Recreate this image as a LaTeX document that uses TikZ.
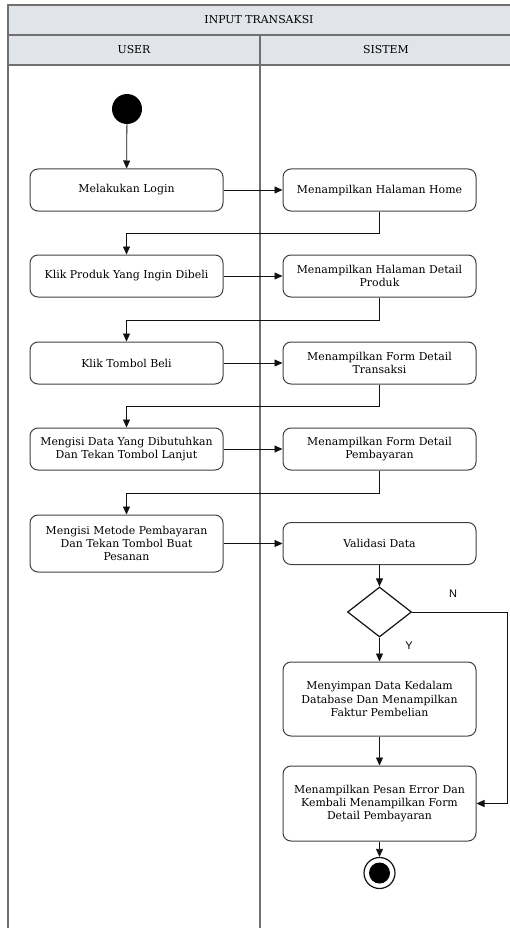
\documentclass[tikz,border=0pt]{standalone}
\usepackage{fontspec}
\setmainfont{DejaVu Serif}
\newfontfamily\labelfont{Liberation Sans}
\usetikzlibrary{arrows.meta,shapes.geometric}
\definecolor{ink}{HTML}{111111}
\definecolor{frame}{HTML}{707070}
\definecolor{boxline}{HTML}{404040}
\definecolor{lane}{HTML}{E1E4E8}

\begin{document}
\begin{tikzpicture}[x=1pt,y=-1pt,
  every node/.style={font=\fontsize{10.9}{13.4}\selectfont},
  act/.style={draw=boxline,line width=1pt,rounded corners=8pt,align=center,inner sep=2pt,minimum width=193pt,minimum height=42pt},
  decision/.style={diamond,draw=ink,line width=1.2pt,aspect=1.28,inner sep=0pt,minimum width=64pt,minimum height=50pt},
  startdot/.style={circle,fill=black,inner sep=0pt,minimum size=30pt},
  endring/.style={circle,draw=ink,line width=1.2pt,fill=white,inner sep=0pt,minimum size=31pt},
  enddot/.style={circle,fill=black,inner sep=0pt,minimum size=21pt},
  lbl/.style={font=\labelfont\fontsize{11}{12}\selectfont},
  arr/.style={-{Triangle[length=8pt,width=7pt]},ink,line width=0.8pt}]
  \useasboundingbox (0,0) rectangle (510,928);
  % swimlane frame
  \draw[frame,line width=1.1pt,fill=lane] (8,5) rectangle (514,35);
  \draw[frame,line width=1.1pt,fill=lane] (8,35) rectangle (514,65);
  \draw[frame,line width=1.1pt] (8,65) -- (8,932);
  \draw[frame,line width=1.1pt] (260,35) -- (260,932);
  \node (title) at (259,20) {INPUT TRANSAKSI};
  \node (user) at (134,50) {USER};
  \node (sistem) at (386,50) {SISTEM};
  % activities
  \node[startdot] (start) at (127,109) {};
  \node[act] (login) at (126.5,190) {Melakukan Login};
  \node[act] (home) at (379.5,190) {Menampilkan Halaman Home};
  \node[act] (produk) at (126.5,276) {Klik Produk Yang Ingin Dibeli};
  \node[act] (detail) at (379.5,276) {Menampilkan Halaman Detail\\Produk};
  \node[act] (beli) at (126.5,363) {Klik Tombol Beli};
  \node[act] (formtrans) at (379.5,363) {Menampilkan Form Detail\\Transaksi};
  \node[act] (isidata) at (126.5,449) {Mengisi Data Yang Dibutuhkan\\Dan Tekan Tombol Lanjut};
  \node[act] (formbayar) at (379.5,449) {Menampilkan Form Detail\\Pembayaran};
  \node[act,minimum height=57pt] (metode) at (126.5,543.5) {Mengisi Metode Pembayaran\\Dan Tekan Tombol Buat\\Pesanan};
  \node[act] (validasi) at (379.5,543.5) {Validasi Data};
  \node[decision] (cek) at (379.5,612) {};
  \node[act,minimum height=74pt] (simpan) at (379.5,699) {Menyimpan Data Kedalam\\Database Dan Menampilkan\\Faktur Pembelian};
  \node[act,minimum height=75pt] (gagal) at (379.5,803.5) {Menampilkan Pesan Error Dan\\Kembali Menampilkan Form\\Detail Pembayaran};
  \node[endring] (finish) at (379.5,873) {};
  \node[enddot] (finishdot) at (finish) {};
  \node[lbl] (ya) at (409,646) {Y};
  \node[lbl] (tidak) at (453,594) {N};
  % flow
  \draw[arr] (start) -- (login);
  \draw[arr] (login) -- (home);
  \draw[arr] (home.south) -- ++(0,22) -| (produk.north);
  \draw[arr] (produk) -- (detail);
  \draw[arr] (detail.south) -- ++(0,23) -| (beli.north);
  \draw[arr] (beli) -- (formtrans);
  \draw[arr] (formtrans.south) -- ++(0,22) -| (isidata.north);
  \draw[arr] (isidata) -- (formbayar);
  \draw[arr] (formbayar.south) -- ++(0,23) -| (metode.north);
  \draw[arr] (metode) -- (validasi);
  \draw[arr] (validasi) -- (cek);
  \draw[arr] (cek) -- (simpan);
  \draw[arr] (cek.east) -- ++(95,0) |- (gagal.east);
  \draw[arr] (simpan) -- (gagal);
  \draw[arr] (gagal) -- (finish);
\end{tikzpicture}
\end{document}
